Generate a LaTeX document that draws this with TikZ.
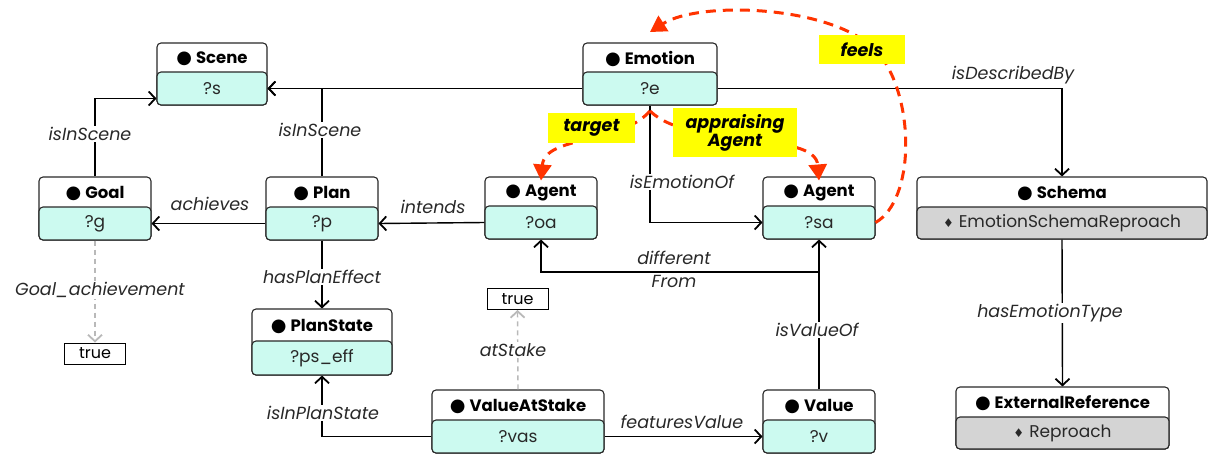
\documentclass[tikz,border=0pt]{standalone}
\usepackage{fontspec}
\setmainfont{Poppins}
\newfontfamily\symf{DejaVu Sans}
\usetikzlibrary{arrows.meta}
\definecolor{bodyc}{RGB}{204,250,240}
\definecolor{grayc}{RGB}{212,212,212}
\definecolor{redc}{RGB}{255,51,0}
\definecolor{yel}{RGB}{255,255,0}
\definecolor{ink}{RGB}{40,40,40}
\tikzset{
  boxframe/.style={draw=ink, line width=1.1pt, rounded corners=4pt, fill=white, inner sep=0pt},
  bodybox/.style={draw=ink, line width=1.1pt, rounded corners=4pt, inner sep=0pt, font=\fontsize{17}{19}\selectfont, text=ink},
  hdrtext/.style={font=\bfseries\fontsize{16.5}{19}\selectfont, text=black, inner sep=0pt},
  conn/.style={draw=black, line width=1.4pt, -{Straight Barb[length=6.5pt,width=14pt,line width=1.8pt]}},
  grayconn/.style={draw=gray!55, line width=1.4pt, dash pattern=on 5pt off 4pt, -{Straight Barb[length=6.5pt,width=14pt,line width=1.8pt]}},
  lbl/.style={font=\itshape\fontsize{17.5}{19}\selectfont, text=ink, inner sep=1.5pt},
  wlbl/.style={lbl, fill=white},
  redconn/.style={draw=redc, line width=3pt, dash pattern=on 10pt off 7pt, -{Triangle[length=16pt,width=18pt]}},
  rlbl/.style={fill=yel, font=\bfseries\itshape\fontsize{17.5}{15}\selectfont, text=black, align=center, inner sep=0pt},
  truebox/.style={draw=black, line width=1pt, fill=white, inner sep=0pt, font=\fontsize{16}{18}\selectfont, minimum width=61pt, minimum height=21pt}
}
\newcommand\obox[9]{%
  \node[boxframe, minimum width={(#3-#2)*1pt}, minimum height={(#6-#4)*1pt}] (#1H) at ({(#2+#3)/2},{(#4+#6)/2}) {};
  \node[hdrtext] (#1T) at ({(#2+#3)/2},{(#4+#5)/2+1}) {{\symf\fontsize{18}{18}\selectfont ●}\hspace{4pt}#7};
  \node[bodybox, fill=#9, minimum width={(#3-#2)*1pt}, minimum height={(#6-#5)*1pt}] (#1) at ({(#2+#3)/2},{(#5+#6)/2}) {#8};
}
\begin{document}
\begin{tikzpicture}[x=1pt,y=-1pt]
\useasboundingbox (0,0) rectangle (1209,458);
% boxes
\obox{scene}{157}{267}{43}{72}{105}{Scene}{?s}{bodyc}
\obox{goal}{39}{151}{177}{207}{240}{Goal}{?g}{bodyc}
\obox{plan}{266}{378}{177}{207}{240}{Plan}{?p}{bodyc}
\obox{emo}{583}{717}{43}{72}{105}{Emotion}{?e}{bodyc}
\obox{oa}{485}{597}{177}{206}{239}{Agent}{?oa}{bodyc}
\obox{sa}{763}{875}{177}{206}{239}{Agent}{?sa}{bodyc}
\obox{schema}{917}{1207}{177}{207}{239}{Schema}{{\symf\fontsize{12}{12}\selectfont ♦}\hspace{5pt}EmotionSchemaReproach}{grayc}
\obox{ext}{956}{1169}{387}{417}{449}{ExternalReference}{{\symf\fontsize{12}{12}\selectfont ♦}\hspace{5pt}Reproach}{grayc}
\obox{ps}{252}{392}{309}{341}{375}{PlanState}{?ps\_eff}{bodyc}
\obox{vas}{432}{604}{390}{420}{453}{ValueAtStake}{?vas}{bodyc}
\obox{val}{763}{875}{390}{420}{453}{Value}{?v}{bodyc}
\node[truebox] (t1) at (95,353.5) {true};
\node[truebox] (t2) at (517.5,299) {true};
% black connectors
\draw[conn] (goalH.north) |- ([yshift=-10pt]scene.west);
\draw[conn] (planH.north) |- (scene.east);
\draw[conn] (emo.west) -- (scene.east);
\draw[conn] (plan.west) -- (goal.east);
\draw[conn] (oa.west) -- (plan.east);
\draw[conn] (emo.south) |- (sa.west);
\draw[conn] (emo.east) -| (schemaH.north);
\draw[conn] (schema.south) -- (extH.north);
\draw[conn] (plan.south) -- (psH.north);
\draw[conn] (vas.west) -| (ps.south);
\draw[conn] (vas.east) -- (val.west);
\draw[conn] (valH.north) -- (sa.south);
\coordinate (dfj) at (819,272);
\draw[conn] (dfj) -| (oa.south);
\draw[grayconn] (goal.south) -- (t1.north);
\draw[grayconn] (vasH.north) -- (t2.south);
% connector labels
\node[wlbl] (l1) at (90,134) {isInScene};
\node[wlbl] (l2) at (320,130) {isInScene};
\node[lbl] (l3) at (210,204) {achieves};
\node[lbl] (l4) at (433,207) {intends};
\node[wlbl] (l5) at (682,182) {isEmotionOf};
\node[lbl] (l6) at (1013,75) {isDescribedBy};
\node[wlbl] (l7) at (1050,313) {hasEmotionType};
\node[wlbl] (l8) at (322,277) {hasPlanEffect};
\node[wlbl] (l9) at (323,413) {isInPlanState};
\node[wlbl] (l10) at (100,290) {Goal\_achievement};
\node[wlbl] (l11) at (513,350) {atStake};
\node[wlbl] (l12) at (817,330) {isValueOf};
\node[lbl] (l13) at (682,422) {featuresValue};
\node[lbl] (l14) at (674,258) {different};
\node[lbl] (l15) at (674,281) {From};
% red dashed relations
\coordinate (peak) at (650,111);
\coordinate (feelsEnd) at (650,32);
\draw[redconn] (sa.east) .. controls (915,200) and (915,100) .. (880,55) .. controls (840,5) and (700,0) .. (feelsEnd);
\draw[redconn] (peak) .. controls (620,145) and (545,135) .. ([yshift=-4pt]oaH.north);
\draw[redconn] (peak) .. controls (690,150) and (815,130) .. ([yshift=-4pt]saH.north);
\node[rlbl, minimum width=86pt, minimum height=29pt] (feelsL) at (862,49.5) {feels};
\node[rlbl, minimum width=87pt, minimum height=30pt] (targetL) at (591.5,128) {target};
\node[rlbl, minimum width=124pt, minimum height=49pt] (apprL) at (735,132.5) {appraising\\Agent};
\end{tikzpicture}
\end{document}
